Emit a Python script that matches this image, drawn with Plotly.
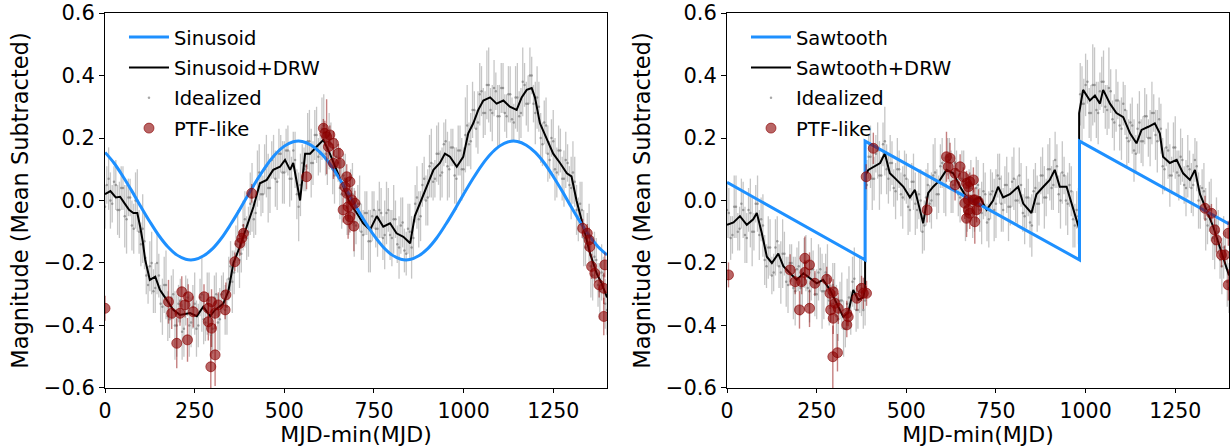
import plotly.graph_objects as go

# ---- model curves ----
sin_x = list(range(0, 1401, 25))
sin_y = [0.154, 0.120, 0.077, 0.030, -0.020, -0.068, -0.112, -0.148, -0.174, -0.188,
         -0.189, -0.177, -0.154, -0.120, -0.077, -0.030, 0.020, 0.068, 0.112, 0.148,
         0.174, 0.188, 0.189, 0.177,
         0.154, 0.120, 0.077, 0.030, -0.020, -0.068, -0.112, -0.148, -0.174, -0.188,
         -0.189, -0.177, -0.154, -0.120, -0.077, -0.030, 0.020, 0.068, 0.112, 0.148,
         0.174, 0.188, 0.189, 0.177,
         0.154, 0.120, 0.077, 0.030, -0.020, -0.068, -0.112, -0.148, -0.174]

saw_x = [0, 385, 385, 983, 983, 1400]
saw_y = [0.058, -0.19, 0.19, -0.19, 0.19, -0.075]

# ---- model + DRW (black lines) ----
drw_l_x = [0, 15, 30, 42, 55, 67, 79, 90, 98, 105,
           112, 125, 140, 153, 172, 190, 209, 237, 256, 274,
           293, 307, 330, 344, 358, 376, 395, 414, 432, 451,
           469, 488, 502, 516, 525, 544, 558, 572, 590, 609,
           627, 646, 665, 683, 702, 720, 739, 758, 776, 795,
           813, 832, 851, 864, 878, 897, 916, 934, 948, 962,
           981, 999, 1013, 1027, 1041, 1055, 1074, 1092, 1111, 1129,
           1148, 1162, 1176, 1190, 1199, 1213, 1232, 1250, 1269, 1288,
           1301, 1315, 1334, 1353, 1371, 1385, 1400]
drw_l_y = [0.02, 0.03, 0.01, 0.012, -0.01, -0.03, -0.04, -0.04, -0.084, -0.13,
           -0.19, -0.254, -0.244, -0.286, -0.318, -0.35, -0.366, -0.36, -0.37, -0.34,
           -0.37, -0.35, -0.33, -0.29, -0.2, -0.148, -0.084, -0.02, 0.055, 0.066,
           0.098, 0.108, 0.13, 0.098, 0.12, 0.0, 0.15, 0.15, 0.172, 0.194,
           0.15, 0.098, 0.044, -0.01, -0.04, -0.073, -0.094, -0.05, -0.084, -0.073,
           -0.105, -0.116, -0.137, -0.05, -0.01, 0.044, 0.098, 0.12, 0.15, 0.14,
           0.108, 0.14, 0.215, 0.247, 0.29, 0.32, 0.33, 0.31, 0.32, 0.3,
           0.29, 0.33, 0.354, 0.36, 0.33, 0.247, 0.194, 0.15, 0.12, 0.087,
           0.077, 0.0, -0.084, -0.17, -0.233, -0.265, -0.31]

drw_r_x = [0, 18, 36, 55, 73, 83, 97, 111, 125, 143,
           157, 176, 194, 213, 231, 250, 268, 287, 306, 324,
           338, 352, 366, 380, 385, 385, 394, 408, 427, 440,
           454, 473, 492, 510, 524, 538, 547, 561, 575, 594,
           612, 631, 650, 668, 687, 705, 724, 742, 756, 770,
           789, 812, 826, 849, 863, 882, 900, 914, 928, 947,
           966, 980, 982, 982, 993, 1012, 1026, 1040, 1049, 1068,
           1086, 1105, 1124, 1142, 1156, 1175, 1193, 1207, 1216, 1235,
           1254, 1272, 1291, 1305, 1319, 1337, 1356, 1374, 1393, 1400]
drw_r_y = [-0.078, -0.07, -0.05, -0.078, -0.06, -0.04, -0.105, -0.18, -0.2, -0.17,
           -0.21, -0.233, -0.254, -0.233, -0.25, -0.265, -0.254, -0.286, -0.33, -0.372,
           -0.36, -0.286, -0.318, -0.31, -0.28, 0.08, 0.098, 0.108, 0.12, 0.151,
           0.087, 0.066, 0.044, 0.01, 0.034, -0.03, -0.073, 0.024, 0.044, 0.066,
           0.098, 0.087, 0.044, 0.01, 0.0, 0.01, -0.03, 0.0, 0.044, 0.01,
           0.02, 0.044, -0.01, -0.04, 0.02, 0.044, 0.066, 0.098, 0.044, 0.044,
           -0.03, -0.084, -0.09, 0.28, 0.354, 0.32, 0.336, 0.31, 0.354, 0.31,
           0.28, 0.267, 0.215, 0.183, 0.226, 0.236, 0.247, 0.215, 0.14, 0.12,
           0.13, 0.087, 0.066, 0.098, 0.02, -0.03, -0.084, -0.148, -0.21, -0.24]

# ---- idealized sampling (gray): two interleaved passes ----
ideal_x = list(range(5, 1400, 10))
ideal_l_y = [0.05, 0.00, 0.06, -0.03, 0.04, -0.05, 0.01, -0.08, 0.00, -0.10,
             -0.09, -0.24, -0.21, -0.29, -0.20, -0.33, -0.27, -0.37, -0.31, -0.40,
             -0.33, -0.42, -0.32, -0.40, -0.34, -0.41, -0.31, -0.38, -0.33, -0.43,
             -0.31, -0.39, -0.30, -0.35, -0.25, -0.26, -0.14, -0.19, -0.08, -0.12,
             -0.01, -0.06, 0.07, 0.02, 0.10, 0.04, 0.13, 0.07, 0.15, 0.09,
             0.16, 0.07, 0.16, 0.02, 0.05, 0.10, 0.19, 0.12, 0.21, 0.14,
             0.23, 0.15, 0.19, 0.10, 0.14, 0.04, 0.08, -0.02, 0.02, -0.07,
             -0.01, -0.10, -0.04, -0.13, -0.05, -0.09, -0.03, -0.12, -0.04, -0.11,
             -0.06, -0.14, -0.08, -0.16, -0.09, -0.15, -0.01, -0.06, 0.05, 0.00,
             0.11, 0.06, 0.15, 0.08, 0.18, 0.11, 0.17, 0.08, 0.16, 0.10,
             0.21, 0.18, 0.29, 0.23, 0.34, 0.28, 0.37, 0.29, 0.36, 0.27,
             0.36, 0.28, 0.34, 0.26, 0.33, 0.27, 0.38, 0.31, 0.40, 0.31,
             0.33, 0.20, 0.25, 0.15, 0.20, 0.10, 0.16, 0.07, 0.13, 0.05,
             0.09, -0.03, -0.01, -0.12, -0.10, -0.21, -0.18, -0.27, -0.23, -0.33]
ideal_l_err = [0.06, 0.09, 0.05, 0.08, 0.07, 0.10, 0.06, 0.08, 0.09, 0.07,
               0.11, 0.06, 0.08, 0.07, 0.10, 0.06, 0.09, 0.08, 0.07, 0.11,
               0.06, 0.09, 0.08, 0.10, 0.07, 0.09, 0.06, 0.08, 0.10, 0.12,
               0.07, 0.09, 0.06, 0.08, 0.07, 0.10, 0.06, 0.09, 0.08, 0.07,
               0.10, 0.06, 0.09, 0.07, 0.08, 0.11, 0.06, 0.09, 0.08, 0.10,
               0.07, 0.09, 0.06, 0.08, 0.10, 0.07, 0.09, 0.11, 0.08, 0.06,
               0.10, 0.07, 0.09, 0.08, 0.06, 0.10, 0.07, 0.09, 0.08, 0.11,
               0.06, 0.09, 0.07, 0.10, 0.08, 0.06, 0.09, 0.07, 0.10, 0.08,
               0.11, 0.06, 0.09, 0.07, 0.08, 0.10, 0.06, 0.09, 0.07, 0.08,
               0.10, 0.06, 0.09, 0.08, 0.07, 0.11, 0.06, 0.09, 0.08, 0.10,
               0.12, 0.07, 0.09, 0.06, 0.10, 0.08, 0.11, 0.07, 0.09, 0.10,
               0.08, 0.06, 0.09, 0.07, 0.10, 0.08, 0.11, 0.07, 0.09, 0.06,
               0.10, 0.08, 0.07, 0.09, 0.06, 0.10, 0.08, 0.07, 0.09, 0.06,
               0.10, 0.08, 0.07, 0.09, 0.06, 0.10, 0.08, 0.07, 0.09, 0.08]
ideal_r_y = [-0.04, -0.11, -0.02, -0.09, -0.03, -0.12, -0.04, -0.10, -0.01, -0.06,
             -0.19, -0.15, -0.24, -0.15, -0.21, -0.17, -0.26, -0.20, -0.28, -0.22,
             -0.28, -0.20, -0.28, -0.22, -0.30, -0.23, -0.29, -0.23, -0.32, -0.27,
             -0.37, -0.32, -0.41, -0.33, -0.36, -0.25, -0.35, -0.28, -0.32, 0.14,
             0.07, 0.15, 0.08, 0.18, 0.10, 0.12, 0.04, 0.10, 0.02, 0.08,
             -0.02, 0.06, -0.01, 0.02, -0.10, 0.01, -0.01, 0.08, 0.02, 0.11,
             0.05, 0.14, 0.06, 0.12, 0.02, 0.07, -0.02, 0.04, -0.04, 0.04,
             -0.03, 0.03, -0.07, 0.02, -0.03, 0.08, -0.01, 0.05, -0.02, 0.06,
             0.00, 0.08, -0.04, 0.01, -0.07, 0.03, -0.01, 0.08, 0.01, 0.10,
             0.04, 0.13, 0.02, 0.09, 0.00, 0.05, -0.06, -0.03, 0.34, 0.31,
             0.38, 0.28, 0.37, 0.28, 0.38, 0.30, 0.36, 0.26, 0.32, 0.24,
             0.31, 0.20, 0.25, 0.16, 0.23, 0.19, 0.27, 0.20, 0.28, 0.21,
             0.26, 0.11, 0.17, 0.08, 0.17, 0.09, 0.14, 0.05, 0.11, 0.04,
             0.13, 0.00, 0.04, -0.06, -0.02, -0.12, -0.08, -0.19, -0.15, -0.26]
ideal_r_err = [0.08, 0.06, 0.10, 0.07, 0.09, 0.08, 0.11, 0.06, 0.09, 0.07,
               0.08, 0.10, 0.06, 0.09, 0.07, 0.11, 0.08, 0.06, 0.10, 0.07,
               0.09, 0.08, 0.06, 0.10, 0.07, 0.09, 0.12, 0.06, 0.08, 0.07,
               0.10, 0.06, 0.09, 0.08, 0.07, 0.10, 0.06, 0.09, 0.08, 0.07,
               0.10, 0.06, 0.11, 0.07, 0.08, 0.09, 0.06, 0.10, 0.07, 0.08,
               0.09, 0.06, 0.10, 0.08, 0.07, 0.09, 0.06, 0.10, 0.08, 0.07,
               0.09, 0.06, 0.10, 0.08, 0.07, 0.09, 0.11, 0.06, 0.08, 0.10,
               0.07, 0.09, 0.06, 0.08, 0.10, 0.07, 0.09, 0.06, 0.11, 0.08,
               0.07, 0.09, 0.06, 0.10, 0.08, 0.07, 0.09, 0.06, 0.10, 0.08,
               0.07, 0.09, 0.06, 0.10, 0.08, 0.07, 0.09, 0.06, 0.10, 0.08,
               0.07, 0.09, 0.12, 0.10, 0.08, 0.07, 0.13, 0.06, 0.10, 0.08,
               0.07, 0.09, 0.06, 0.10, 0.08, 0.07, 0.09, 0.06, 0.10, 0.08,
               0.07, 0.09, 0.06, 0.10, 0.08, 0.07, 0.09, 0.06, 0.10, 0.08,
               0.07, 0.09, 0.06, 0.10, 0.08, 0.07, 0.09, 0.06, 0.10, 0.08]

ideal2_x = list(range(0, 1401, 10))
ideal2_l_y = [-0.02, 0.07, -0.01, 0.05, -0.03, 0.04, -0.06, 0.01, -0.09, 0.00,
              -0.14, -0.13, -0.27, -0.20, -0.28, -0.24, -0.34, -0.27, -0.38, -0.30,
              -0.40, -0.32, -0.41, -0.31, -0.39, -0.33, -0.40, -0.30, -0.39, -0.32,
              -0.41, -0.30, -0.38, -0.29, -0.34, -0.21, -0.23, -0.13, -0.17, -0.06,
              -0.10, 0.01, -0.04, 0.09, 0.02, 0.11, 0.04, 0.14, 0.06, 0.15,
              0.09, 0.16, 0.07, 0.13, -0.02, 0.12, 0.11, 0.19, 0.12, 0.21,
              0.15, 0.24, 0.13, 0.18, 0.08, 0.12, 0.02, 0.07, -0.04, 0.02,
              -0.08, -0.01, -0.11, -0.04, -0.13, -0.03, -0.09, -0.04, -0.11, -0.03,
              -0.12, -0.06, -0.15, -0.07, -0.17, -0.10, -0.12, 0.01, -0.05, 0.07,
              0.01, 0.12, 0.07, 0.15, 0.09, 0.19, 0.10, 0.17, 0.07, 0.16,
              0.10, 0.24, 0.19, 0.29, 0.25, 0.35, 0.28, 0.37, 0.28, 0.35,
              0.27, 0.36, 0.27, 0.34, 0.25, 0.33, 0.28, 0.37, 0.31, 0.40,
              0.28, 0.30, 0.18, 0.24, 0.13, 0.19, 0.09, 0.16, 0.07, 0.12,
              0.04, 0.06, -0.06, -0.03, -0.15, -0.11, -0.24, -0.19, -0.29, -0.24,
              -0.35]
ideal2_l_err = [0.07, 0.10, 0.06, 0.08, 0.09, 0.07, 0.11, 0.06, 0.08, 0.10,
                0.07, 0.09, 0.06, 0.10, 0.08, 0.07, 0.09, 0.11, 0.06, 0.08,
                0.10, 0.07, 0.09, 0.06, 0.08, 0.10, 0.07, 0.12, 0.06, 0.09,
                0.08, 0.07, 0.10, 0.06, 0.09, 0.08, 0.07, 0.10, 0.06, 0.09,
                0.08, 0.11, 0.07, 0.09, 0.06, 0.10, 0.08, 0.07, 0.09, 0.06,
                0.10, 0.08, 0.07, 0.09, 0.11, 0.06, 0.08, 0.10, 0.07, 0.09,
                0.06, 0.10, 0.08, 0.07, 0.09, 0.06, 0.11, 0.08, 0.07, 0.10,
                0.06, 0.09, 0.08, 0.07, 0.10, 0.06, 0.09, 0.08, 0.11, 0.07,
                0.09, 0.06, 0.10, 0.08, 0.07, 0.09, 0.06, 0.10, 0.08, 0.07,
                0.09, 0.11, 0.06, 0.10, 0.08, 0.07, 0.09, 0.06, 0.10, 0.08,
                0.07, 0.13, 0.09, 0.06, 0.10, 0.08, 0.07, 0.12, 0.09, 0.06,
                0.10, 0.08, 0.07, 0.09, 0.06, 0.11, 0.08, 0.07, 0.09, 0.06,
                0.10, 0.08, 0.07, 0.09, 0.06, 0.10, 0.08, 0.07, 0.09, 0.06,
                0.10, 0.08, 0.07, 0.09, 0.06, 0.10, 0.08, 0.07, 0.09, 0.06,
                0.08]
ideal2_r_y = [-0.03, -0.12, -0.02, -0.10, -0.01, -0.11, -0.03, -0.10, -0.01, -0.11,
              -0.08, -0.21, -0.15, -0.23, -0.13, -0.23, -0.17, -0.27, -0.20, -0.29,
              -0.21, -0.27, -0.20, -0.29, -0.22, -0.30, -0.22, -0.29, -0.24, -0.33,
              -0.28, -0.38, -0.32, -0.41, -0.31, -0.26, -0.35, -0.27, -0.35, 0.05,
              0.14, 0.07, 0.16, 0.08, 0.19, 0.07, 0.12, 0.03, 0.10, 0.01,
              0.07, -0.03, 0.06, -0.03, 0.00, -0.08, 0.05, 0.00, 0.09, 0.02,
              0.12, 0.05, 0.13, 0.05, 0.10, 0.01, 0.06, -0.03, 0.04, -0.04,
              0.05, -0.04, 0.02, -0.06, 0.03, -0.01, 0.07, -0.03, 0.05, -0.02,
              0.07, 0.00, 0.05, -0.05, 0.01, -0.08, 0.04, -0.01, 0.08, 0.01,
              0.10, 0.05, 0.11, 0.00, 0.08, -0.01, 0.03, -0.08, -0.05, 0.31,
              0.37, 0.28, 0.37, 0.29, 0.35, 0.38, 0.29, 0.35, 0.25, 0.32,
              0.23, 0.29, 0.19, 0.24, 0.15, 0.25, 0.19, 0.27, 0.20, 0.28,
              0.19, 0.23, 0.10, 0.16, 0.08, 0.17, 0.08, 0.13, 0.04, 0.10,
              0.05, 0.11, -0.02, 0.03, -0.08, -0.03, -0.14, -0.10, -0.21, -0.16,
              -0.28]
ideal2_r_err = [0.09, 0.07, 0.10, 0.06, 0.08, 0.09, 0.07, 0.11, 0.06, 0.08,
                0.10, 0.07, 0.09, 0.06, 0.08, 0.10, 0.07, 0.09, 0.06, 0.11,
                0.08, 0.07, 0.09, 0.10, 0.06, 0.08, 0.07, 0.09, 0.10, 0.06,
                0.08, 0.07, 0.09, 0.06, 0.10, 0.08, 0.07, 0.09, 0.06, 0.08,
                0.10, 0.07, 0.09, 0.06, 0.11, 0.08, 0.07, 0.09, 0.06, 0.10,
                0.08, 0.07, 0.09, 0.06, 0.10, 0.08, 0.07, 0.09, 0.11, 0.06,
                0.08, 0.10, 0.07, 0.09, 0.06, 0.08, 0.10, 0.07, 0.09, 0.06,
                0.08, 0.10, 0.07, 0.09, 0.06, 0.11, 0.08, 0.07, 0.09, 0.06,
                0.10, 0.08, 0.07, 0.09, 0.06, 0.10, 0.08, 0.07, 0.09, 0.06,
                0.10, 0.08, 0.07, 0.09, 0.06, 0.10, 0.08, 0.07, 0.09, 0.12,
                0.10, 0.08, 0.13, 0.09, 0.06, 0.10, 0.08, 0.07, 0.09, 0.06,
                0.10, 0.08, 0.07, 0.09, 0.06, 0.10, 0.08, 0.07, 0.09, 0.06,
                0.10, 0.08, 0.07, 0.09, 0.06, 0.10, 0.08, 0.07, 0.09, 0.06,
                0.10, 0.08, 0.07, 0.09, 0.06, 0.10, 0.08, 0.07, 0.09, 0.06,
                0.08]

# ---- PTF-like sampling (red) ----
ptf_l_x = [0, 177, 186, 200, 209, 214, 223, 230, 232, 246,
           276, 288, 288, 295, 297, 297, 307, 307, 316, 335,
           337, 362, 376, 381, 386, 409, 562, 609, 613, 618,
           623, 627, 637, 637, 651, 655, 664, 669, 674, 674,
           678, 678, 683, 683, 688, 694, 697, 1332, 1345, 1350,
           1352, 1357, 1366, 1378, 1391, 1391, 1394]
ptf_l_y = [-0.345, -0.324, -0.361, -0.457, -0.361, -0.292, -0.334, -0.446, -0.308, -0.356,
           -0.308, -0.345, -0.388, -0.532, -0.324, -0.409, -0.361, -0.494, -0.334, -0.35,
           -0.302, -0.196, -0.137, -0.121, -0.105, 0.023, 0.076, 0.231, 0.215, 0.204,
           0.172, 0.21, 0.183, 0.119, 0.151, 0.119, -0.03, 0.044, 0.076, 0.023,
           -0.02, -0.062, 0.06, -0.052, 0.002, -0.082, -0.009, -0.089, -0.105, -0.126,
           -0.148, -0.211, -0.233, -0.27, -0.281, -0.371, -0.206]
ptf_l_err = [0.04, 0.07, 0.05, 0.08, 0.04, 0.05, 0.04, 0.07, 0.04, 0.05,
             0.04, 0.05, 0.06, 0.10, 0.04, 0.06, 0.05, 0.10, 0.04, 0.03,
             0.04, 0.03, 0.04, 0.03, 0.03, 0.03, 0.04, 0.03, 0.04, 0.12,
             0.04, 0.03, 0.04, 0.05, 0.03, 0.05, 0.04, 0.03, 0.04, 0.05,
             0.04, 0.06, 0.03, 0.05, 0.04, 0.08, 0.04, 0.03, 0.03, 0.04,
             0.03, 0.04, 0.03, 0.04, 0.05, 0.06, 0.04]

ptf_r_x = [4, 176, 190, 202, 208, 217, 217, 230, 230, 245,
           278, 287, 289, 295, 296, 296, 301, 308, 310, 334,
           334, 338, 362, 375, 380, 388, 389, 408, 558, 612,
           617, 622, 636, 636, 650, 659, 663, 668, 668, 673,
           673, 673, 677, 677, 687, 687, 691, 691, 696, 701,
           1333, 1351, 1360, 1365, 1379, 1388, 1398, 1398]
ptf_r_y = [-0.238, -0.222, -0.26, -0.35, -0.26, -0.185, -0.23, -0.206, -0.345, -0.265,
           -0.252, -0.297, -0.35, -0.5, -0.292, -0.377, -0.329, -0.487, -0.345, -0.361,
           -0.398, -0.372, -0.313, -0.281, -0.297, 0.076, -0.297, 0.167, -0.03, 0.14,
           0.108, 0.135, 0.087, 0.05, 0.108, 0.076, -0.009, 0.055, -0.057, 0.044,
           0.002, -0.03, 0.06, -0.041, 0.066, 0.002, 0.002, -0.068, -0.03, -0.004,
           -0.025, -0.041, -0.094, -0.126, -0.174, -0.174, -0.105, -0.27]
ptf_r_err = [0.04, 0.05, 0.04, 0.06, 0.04, 0.07, 0.04, 0.04, 0.06, 0.04,
             0.04, 0.05, 0.04, 0.10, 0.04, 0.05, 0.04, 0.06, 0.05, 0.04,
             0.04, 0.03, 0.04, 0.04, 0.05, 0.04, 0.04, 0.05, 0.04, 0.08,
             0.04, 0.05, 0.04, 0.05, 0.04, 0.03, 0.05, 0.04, 0.06, 0.04,
             0.05, 0.04, 0.03, 0.05, 0.04, 0.05, 0.04, 0.07, 0.04, 0.04,
             0.04, 0.03, 0.04, 0.04, 0.04, 0.03, 0.04, 0.05]

y_ticks = [-0.6, -0.4, -0.2, 0.0, 0.2, 0.4, 0.6]
x_ticks = [0, 250, 500, 750, 1000, 1250]

FONT = "DejaVu Sans"
BLUE = "#1E90FF"
GRAY = "rgba(128,128,128,0.45)"
RED = "rgba(139,0,0,0.6)"

fig = go.Figure()


def add_panel(xa, ya, legend, model_x, model_y, model_name, drw_x, drw_y,
              ide_y, ide_err, ide2_y, ide2_err, ptf_x, ptf_y, ptf_err, smooth):
    fig.add_trace(go.Scatter(
        x=ideal2_x, y=ide2_y, mode="markers", showlegend=False,
        marker=dict(color="rgba(110,110,110,0.6)", size=2.5),
        error_y=dict(type="data", array=ide2_err, color=GRAY, thickness=1.3, width=0),
        xaxis=xa, yaxis=ya, legend=legend))
    fig.add_trace(go.Scatter(
        x=ideal_x, y=ide_y, mode="markers", name="Idealized",
        marker=dict(color="rgba(110,110,110,0.6)", size=2.5),
        error_y=dict(type="data", array=ide_err, color=GRAY, thickness=1.3, width=0),
        xaxis=xa, yaxis=ya, legend=legend, legendrank=3, legendgroup=legend + "c"))
    fig.add_trace(go.Scatter(
        x=drw_x, y=drw_y, mode="lines", name=model_name + "+DRW",
        line=dict(color="black", width=2),
        xaxis=xa, yaxis=ya, legend=legend, legendrank=2, legendgroup=legend + "b"))
    fig.add_trace(go.Scatter(
        x=model_x, y=model_y, mode="lines", name=model_name,
        line=dict(color=BLUE, width=3, shape="spline" if smooth else "linear"),
        xaxis=xa, yaxis=ya, legend=legend, legendrank=1, legendgroup=legend + "a"))
    fig.add_trace(go.Scatter(
        x=ptf_x, y=ptf_y, mode="markers", name="PTF-like",
        marker=dict(color=RED, size=10, line=dict(color="rgba(139,0,0,0.6)", width=1)),
        error_y=dict(type="data", array=ptf_err, color="rgba(139,0,0,0.5)",
                     thickness=1.4, width=0),
        xaxis=xa, yaxis=ya, legend=legend, legendrank=4, legendgroup=legend + "d"))


add_panel("x", "y", "legend", sin_x, sin_y, "Sinusoid", drw_l_x, drw_l_y,
          ideal_l_y, ideal_l_err, ideal2_l_y, ideal2_l_err,
          ptf_l_x, ptf_l_y, ptf_l_err, True)
add_panel("x2", "y2", "legend2", saw_x, saw_y, "Sawtooth", drw_r_x, drw_r_y,
          ideal_r_y, ideal_r_err, ideal2_r_y, ideal2_r_err,
          ptf_r_x, ptf_r_y, ptf_r_err, False)

xax = dict(range=[0, 1400], tickvals=x_ticks, ticks="outside", ticklen=4,
           tickcolor="black", showline=True, linecolor="black", linewidth=1,
           mirror=True, showgrid=False, zeroline=False, automargin=False,
           ticklabeloverflow="allow",
           tickfont=dict(family=FONT, size=20.5, color="black"),
           title=dict(text="MJD-min(MJD)", font=dict(family=FONT, size=22, color="black"),
                      standoff=4))
yax = dict(range=[-0.6, 0.6], tickvals=y_ticks, tickformat=".1f", ticks="outside",
           ticklen=5, tickcolor="black", showline=True, linecolor="black", linewidth=1,
           mirror=True, showgrid=False, zeroline=False, automargin=False,
           ticklabeloverflow="allow",
           tickfont=dict(family=FONT, size=21, color="black"),
           title=dict(text="Magnitude (Mean Subtracted)",
                      font=dict(family=FONT, size=22.5, color="black"), standoff=8),
           domain=[0.132, 0.9709])

leg = dict(bgcolor="rgba(0,0,0,0)", borderwidth=0, xanchor="left", yanchor="top",
           y=0.960, font=dict(family=FONT, size=19.5, color="black"),
           tracegroupgap=2, itemwidth=40)

fig.update_layout(
    width=1230, height=447,
    margin=dict(l=0, r=0, t=0, b=0),
    paper_bgcolor="white", plot_bgcolor="white",
    showlegend=True,
    xaxis=dict(xax, domain=[0.0854, 0.4935], anchor="y"),
    yaxis=dict(yax, anchor="x"),
    xaxis2=dict(xax, domain=[0.5911, 0.9992], anchor="y2"),
    yaxis2=dict(yax, anchor="x2"),
    legend=dict(leg, x=0.1008),
    legend2=dict(leg, x=0.6065),
)

# drop the default 8px page margin so the figure fills the window exactly
fig.write_html("out.html", config={"displayModeBar": False},
               post_script="document.body.style.margin='0';")
